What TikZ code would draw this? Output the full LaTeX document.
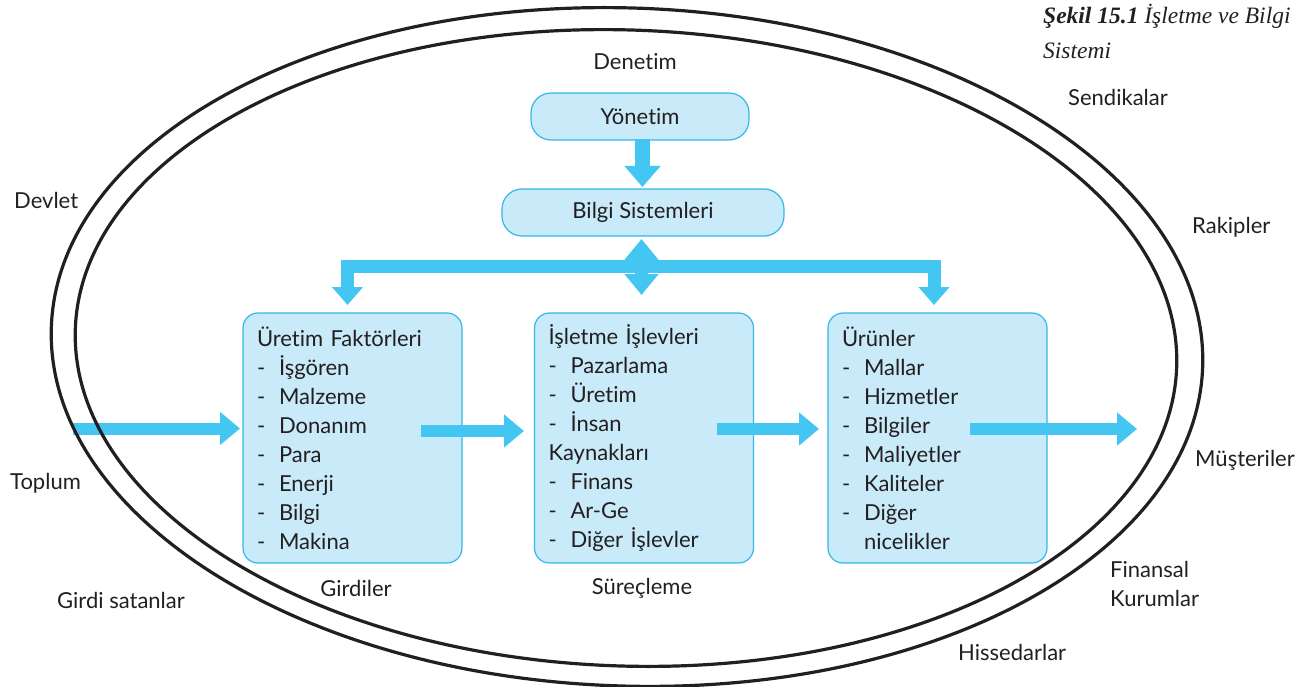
\documentclass[tikz,border=0pt]{standalone}
\usepackage{fontspec}
\setmainfont{Lato}[Ligatures=NoCommon]
\newfontfamily\figcapfont{Liberation Serif}
\usetikzlibrary{arrows.meta}
\definecolor{boxfill}{HTML}{C8EAF9}
\definecolor{boxline}{HTML}{33B7EA}
\definecolor{flowblue}{HTML}{43C7F2}
\definecolor{ink}{HTML}{231F20}
% list entries: a dash, then the item text on a common indent
\newcommand\itm[1]{\makebox[22pt][l]{-}#1}
\newcommand\cnt[1]{\hspace*{22pt}#1}
\begin{document}
\begin{tikzpicture}[x=1pt, y=-1pt, line join=miter,
  every node/.style={text=ink, font=\fontsize{22}{29}\selectfont},
  headbox/.style={draw=boxline, line width=1.2pt, fill=boxfill, rounded corners=20pt,
    minimum height=47pt, inner sep=0pt},
  listbox/.style={draw=boxline, line width=1.2pt, fill=boxfill, rounded corners=15pt,
    minimum width=219pt, minimum height=250pt, text width=191pt,
    inner xsep=14pt, inner ysep=0pt, align=left},
  tag/.style={inner sep=0pt},
  hflow/.style={draw=flowblue, line width=12pt, -{Triangle[length=20pt, width=32pt]}},
  ring/.style={draw=ink, line width=3.2pt}]
\useasboundingbox (0,0) rectangle (1309,687);

% management and information system
\node[headbox, minimum width=218pt] (yon) at (640,116.5) {Yönetim};
\node[headbox, minimum width=282pt] (bilgi) at (643,212.5) {Bilgi Sistemleri};

% the three stages
\node[listbox] (girdi) at (352.5,438) {Üretim Faktörleri\\
  \itm{İşgören}\\ \itm{Malzeme}\\ \itm{Donanım}\\ \itm{Para}\\
  \itm{Enerji}\\ \itm{Bilgi}\\ \itm{Makina}};
\node[listbox] (islev) at (644,438) {İşletme İşlevleri\\
  \itm{Pazarlama}\\ \itm{Üretim}\\ \itm{İnsan}\\ Kaynakları\\
  \itm{Finans}\\ \itm{Ar-Ge}\\ \itm{Diğer İşlevler}};
\node[listbox] (urun) at (937.5,438) {Ürünler\\
  \itm{Mallar}\\ \itm{Hizmetler}\\ \itm{Bilgiler}\\ \itm{Maliyetler}\\
  \itm{Kaliteler}\\ \itm{Diğer}\\ \cnt{nicelikler}};

% management -> information system
\coordinate (ya) at (642.5,139);
\coordinate (yb) at (642.5,187);
\draw[draw=flowblue, line width=15pt, -{Triangle[length=21pt, width=35pt]}] (ya) -- (yb);

% information distribution bus
\coordinate (busLtip) at (347.5,305);
\coordinate (busL) at (347.5,266.5);
\coordinate (busR) at (934,266.5);
\coordinate (busRtip) at (934,305);
\draw[draw=flowblue, line width=13pt,
  {Triangle[length=18pt, width=30pt]}-{Triangle[length=18pt, width=30pt]}]
  (busLtip) -- (busL) -- (busR) -- (busRtip);
\coordinate (dtop) at (641.5,239);
\coordinate (dbot) at (641.5,295);
\draw[draw=flowblue, line width=13pt,
  {Triangle[length=21pt, width=33pt]}-{Triangle[length=21pt, width=33pt]}] (dtop) -- (dbot);

% main flow
\coordinate (inL) at (73,428.5);
\coordinate (inR) at (240,428.5);
\coordinate (m1s) at (421,431);
\coordinate (m1e) at (524,431);
\coordinate (m2s) at (717,429);
\coordinate (m2e) at (819,429);
\coordinate (outs) at (970,429);
\coordinate (oute) at (1137,429);
\draw[hflow] (inL) -- (inR);
\draw[hflow] (m1s) -- (m1e);
\draw[hflow] (m2s) -- (m2e);
\draw[hflow] (outs) -- (oute);

% labels
\node[tag] (denetim) at (635,62) {Denetim};
\node[tag] (girdiler) at (356,588) {Girdiler};
\node[tag] (surec) at (642,588) {Süreçleme};
\node[tag, anchor=west] (devlet) at (14,200) {Devlet};
\node[tag, anchor=west] (toplum) at (10,483) {Toplum};
\node[tag, anchor=west] (girdisat) at (57,600) {Girdi satanlar};
\node[tag, anchor=west] (hisse) at (958,652) {Hissedarlar};
\node[tag, anchor=west, align=left] (finans) at (1110,584) {Finansal\\Kurumlar};
\node[tag, anchor=west] (musteri) at (1195,460) {Müşteriler};
\node[tag, anchor=west] (rakip) at (1192,227) {Rakipler};
\node[tag, anchor=west] (sendika) at (1068,97) {Sendikalar};
\node[anchor=north west, inner sep=0pt, align=left,
  font=\figcapfont\itshape\fontsize{23.5}{35}\selectfont] (caption) at (1043,4)
  {\textbf{Şekil 15.1} İşletme ve Bilgi\\Sistemi};

% environment rings
\draw[ring, rotate around={-2:(627,347)}] (627,347) ellipse [x radius=576, y radius=339];
\draw[ring, rotate around={-2:(626,348)}] (626,348) ellipse [x radius=551, y radius=318];
\end{tikzpicture}
\end{document}
